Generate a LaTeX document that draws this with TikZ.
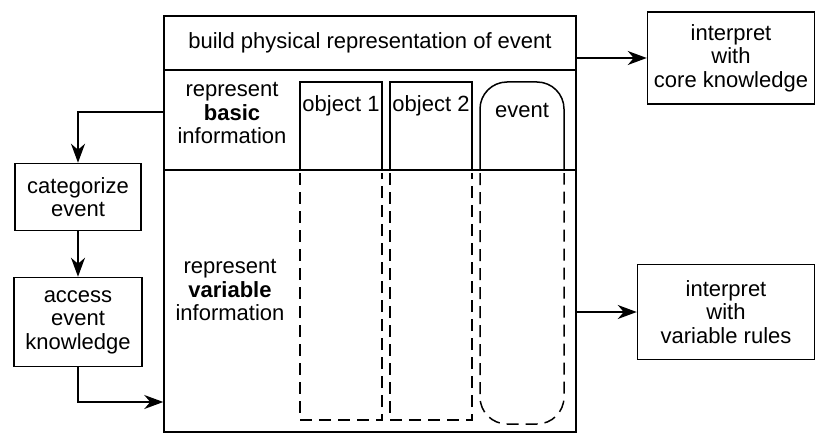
\documentclass[tikz,border=0pt]{standalone}
\usepackage{fontspec}
\setmainfont{Liberation Sans}
\usetikzlibrary{arrows.meta}
\begin{document}
\begin{tikzpicture}[x=1pt,y=-1pt,
  line width=1.5pt,
  every node/.style={font=\fontsize{22}{23.5}\selectfont, align=center, inner sep=0pt},
  box/.style={draw, line width=1.5pt},
  arr/.style={-{Stealth[length=19pt,width=14pt,inset=6pt]}, line width=1.5pt},
  dsh/.style={dash pattern=on 12pt off 7pt}]
\useasboundingbox (0,0) rectangle (818,441);
% main frame
\node[box, minimum width=412pt, minimum height=416pt] (main) at (370,224) {};
\draw (164,70) -- (576,70);
\draw (164,170) -- (576,170);
\node (title) at (370,43) {build physical representation of event};
\node (basic) at (232,113) {represent\\\textbf{basic}\\information};
\node (variable) at (230,290) {represent\\\textbf{variable}\\information};
% columns
\draw (300,170) -- (300,82) -- (382,82) -- (382,170);
\draw[dsh] (300,173) -- (300,420) -- (382,420) -- (382,173);
\draw (390,170) -- (390,82) -- (472,82) -- (472,170);
\draw[dsh] (390,173) -- (390,420) -- (472,420) -- (472,173);
\draw[rounded corners=27pt] (480,170) -- (480,82) -- (564,82) -- (564,170);
\draw[dsh, rounded corners=27pt] (480,173) -- (480,424) -- (564,424) -- (564,173);
\node (obj1) at (341,106) {object 1};
\node (obj2) at (431,106) {object 2};
\node (ev) at (522,110) {event};
% left boxes
\node[box, minimum width=126pt, minimum height=67pt] (cat) at (78,197) {categorize\\event};
\node[box, minimum width=128pt, minimum height=89pt] (acc) at (78,322) {access\\event\\knowledge};
% right boxes
\node[box, minimum width=167pt, minimum height=92pt] (core) at (731,58) {interpret\\with\\core knowledge};
\node[box, minimum width=177pt, minimum height=95pt] (vr) at (726,312) {interpret\\with\\variable rules};
% connectors
\coordinate (y1) at (0,112);
\coordinate (y2) at (0,402);
\draw[arr] (main.west |- y1) -| (cat.north);
\draw[arr] (cat.south) -- (acc.north);
\draw[arr] (acc.south) |- (main.west |- y2);
\draw[arr] (main.east |- core.west) -- (core.west);
\draw[arr] (main.east |- vr.west) -- (vr.west);
\end{tikzpicture}
\end{document}
